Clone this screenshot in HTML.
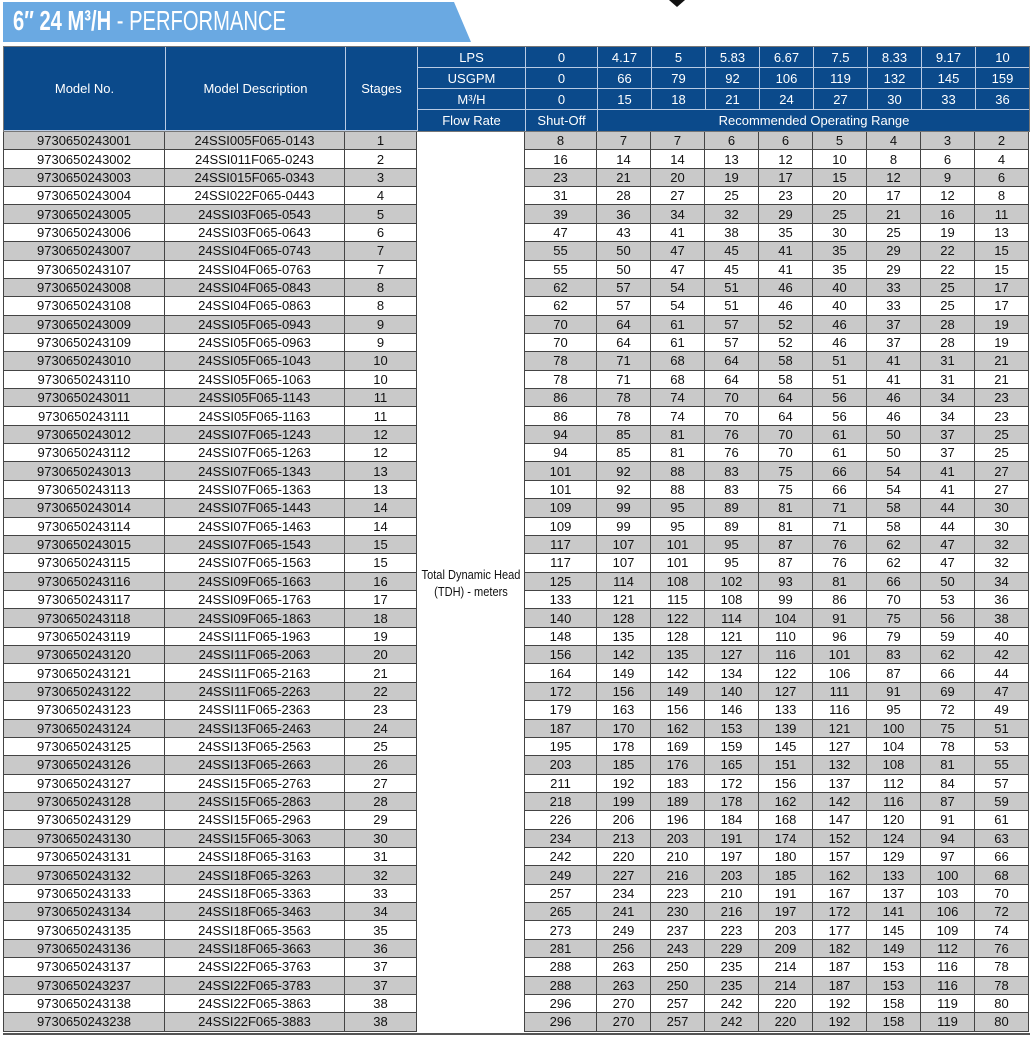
<!DOCTYPE html>
<html><head><meta charset="utf-8">
<style>
*{margin:0;padding:0;box-sizing:border-box}
body{width:1032px;height:1038px;background:#fff;position:relative;overflow:hidden;font-family:"Liberation Sans Narrow","Liberation Sans",sans-serif;color:#111}
.ban{position:absolute;left:3px;top:2px;width:468px;height:40px;background:#6aa9e2;clip-path:polygon(0 0,451px 0,468px 40px,0 40px)}
.ttl{position:absolute;left:13px;top:5px;font-size:28px;color:#fff;white-space:nowrap;transform:scaleX(0.72);transform-origin:0 0}
.ttl b{font-weight:bold}
.dia{position:absolute;left:669px;top:0;width:0;height:0;border-left:8px solid transparent;border-right:8px solid transparent;border-top:7px solid #111}
.hd{position:absolute;top:46px;left:3px;width:1027px;height:86px;background:#0b4a8b;border:1px solid #777}
.hc{position:absolute;color:#fff;font-size:13px;display:flex;align-items:center;justify-content:center;border-right:1px solid #b9cbe4;border-bottom:1px solid #b9cbe4}
.tb{position:absolute;top:132px;left:3px;width:1027px}
.r{display:grid;grid-template-columns:162px 180px 72px 108px 72px repeat(8,54px);height:18.37px;font-size:13px}
.r span{display:flex;align-items:center;justify-content:center;border-right:1px solid #444;border-bottom:1px solid #444;line-height:1}
.r span:first-child{border-left:1px solid #444}
.r span:nth-child(4){background:#fff!important;border-bottom:none}
.g span{background:#c9c9c9}
.tdh{position:absolute;left:397px;top:566px;width:148px;text-align:center;font-size:13px;line-height:17px;white-space:nowrap;transform:scaleX(0.85)}
.bl{position:absolute;left:3px;top:1033px;width:1027px;height:2px;background:#555}
</style></head><body>
<div class="ban"></div>
<div class="ttl"><b>6″ 24 M³/H</b> - PERFORMANCE</div>
<div class="dia"></div>
<div class="hd">
<div class="hc" style="left:0;top:0;width:162px;height:84px">Model No.</div>
<div class="hc" style="left:162px;top:0;width:180px;height:84px">Model Description</div>
<div class="hc" style="left:342px;top:0;width:72px;height:84px">Stages</div>
<div class="hc" style="left:414px;top:0;width:108px;height:21px">LPS</div>
<div class="hc" style="left:414px;top:21px;width:108px;height:21px">USGPM</div>
<div class="hc" style="left:414px;top:42px;width:108px;height:21px">M³/H</div>
<div class="hc" style="left:414px;top:63px;width:108px;height:21px;border-bottom:none">Flow Rate</div>
<div class="hc" style="left:522px;top:0;width:72px;height:21px">0</div>
<div class="hc" style="left:522px;top:21px;width:72px;height:21px">0</div>
<div class="hc" style="left:522px;top:42px;width:72px;height:21px">0</div>
<div class="hc" style="left:522px;top:63px;width:72px;height:21px;border-bottom:none">Shut-Off</div>
<div class="hc" style="left:594px;top:63px;width:432px;height:21px;border:none">Recommended Operating Range</div>
<div class="hc" style="left:594px;top:0;width:54px;height:21px">4.17</div><div class="hc" style="left:648px;top:0;width:54px;height:21px">5</div><div class="hc" style="left:702px;top:0;width:54px;height:21px">5.83</div><div class="hc" style="left:756px;top:0;width:54px;height:21px">6.67</div><div class="hc" style="left:810px;top:0;width:54px;height:21px">7.5</div><div class="hc" style="left:864px;top:0;width:54px;height:21px">8.33</div><div class="hc" style="left:918px;top:0;width:54px;height:21px">9.17</div><div class="hc" style="left:972px;top:0;width:53px;height:21px;border-right:none">10</div>
<div class="hc" style="left:594px;top:21px;width:54px;height:21px">66</div><div class="hc" style="left:648px;top:21px;width:54px;height:21px">79</div><div class="hc" style="left:702px;top:21px;width:54px;height:21px">92</div><div class="hc" style="left:756px;top:21px;width:54px;height:21px">106</div><div class="hc" style="left:810px;top:21px;width:54px;height:21px">119</div><div class="hc" style="left:864px;top:21px;width:54px;height:21px">132</div><div class="hc" style="left:918px;top:21px;width:54px;height:21px">145</div><div class="hc" style="left:972px;top:21px;width:53px;height:21px;border-right:none">159</div>
<div class="hc" style="left:594px;top:42px;width:54px;height:21px">15</div><div class="hc" style="left:648px;top:42px;width:54px;height:21px">18</div><div class="hc" style="left:702px;top:42px;width:54px;height:21px">21</div><div class="hc" style="left:756px;top:42px;width:54px;height:21px">24</div><div class="hc" style="left:810px;top:42px;width:54px;height:21px">27</div><div class="hc" style="left:864px;top:42px;width:54px;height:21px">30</div><div class="hc" style="left:918px;top:42px;width:54px;height:21px">33</div><div class="hc" style="left:972px;top:42px;width:53px;height:21px;border-right:none">36</div>
</div>
<div class="tb">
<div class="r g"><span>9730650243001</span><span>24SSI005F065-0143</span><span>1</span><span></span><span>8</span><span>7</span><span>7</span><span>6</span><span>6</span><span>5</span><span>4</span><span>3</span><span>2</span></div>
<div class="r"><span>9730650243002</span><span>24SSI011F065-0243</span><span>2</span><span></span><span>16</span><span>14</span><span>14</span><span>13</span><span>12</span><span>10</span><span>8</span><span>6</span><span>4</span></div>
<div class="r g"><span>9730650243003</span><span>24SSI015F065-0343</span><span>3</span><span></span><span>23</span><span>21</span><span>20</span><span>19</span><span>17</span><span>15</span><span>12</span><span>9</span><span>6</span></div>
<div class="r"><span>9730650243004</span><span>24SSI022F065-0443</span><span>4</span><span></span><span>31</span><span>28</span><span>27</span><span>25</span><span>23</span><span>20</span><span>17</span><span>12</span><span>8</span></div>
<div class="r g"><span>9730650243005</span><span>24SSI03F065-0543</span><span>5</span><span></span><span>39</span><span>36</span><span>34</span><span>32</span><span>29</span><span>25</span><span>21</span><span>16</span><span>11</span></div>
<div class="r"><span>9730650243006</span><span>24SSI03F065-0643</span><span>6</span><span></span><span>47</span><span>43</span><span>41</span><span>38</span><span>35</span><span>30</span><span>25</span><span>19</span><span>13</span></div>
<div class="r g"><span>9730650243007</span><span>24SSI04F065-0743</span><span>7</span><span></span><span>55</span><span>50</span><span>47</span><span>45</span><span>41</span><span>35</span><span>29</span><span>22</span><span>15</span></div>
<div class="r"><span>9730650243107</span><span>24SSI04F065-0763</span><span>7</span><span></span><span>55</span><span>50</span><span>47</span><span>45</span><span>41</span><span>35</span><span>29</span><span>22</span><span>15</span></div>
<div class="r g"><span>9730650243008</span><span>24SSI04F065-0843</span><span>8</span><span></span><span>62</span><span>57</span><span>54</span><span>51</span><span>46</span><span>40</span><span>33</span><span>25</span><span>17</span></div>
<div class="r"><span>9730650243108</span><span>24SSI04F065-0863</span><span>8</span><span></span><span>62</span><span>57</span><span>54</span><span>51</span><span>46</span><span>40</span><span>33</span><span>25</span><span>17</span></div>
<div class="r g"><span>9730650243009</span><span>24SSI05F065-0943</span><span>9</span><span></span><span>70</span><span>64</span><span>61</span><span>57</span><span>52</span><span>46</span><span>37</span><span>28</span><span>19</span></div>
<div class="r"><span>9730650243109</span><span>24SSI05F065-0963</span><span>9</span><span></span><span>70</span><span>64</span><span>61</span><span>57</span><span>52</span><span>46</span><span>37</span><span>28</span><span>19</span></div>
<div class="r g"><span>9730650243010</span><span>24SSI05F065-1043</span><span>10</span><span></span><span>78</span><span>71</span><span>68</span><span>64</span><span>58</span><span>51</span><span>41</span><span>31</span><span>21</span></div>
<div class="r"><span>9730650243110</span><span>24SSI05F065-1063</span><span>10</span><span></span><span>78</span><span>71</span><span>68</span><span>64</span><span>58</span><span>51</span><span>41</span><span>31</span><span>21</span></div>
<div class="r g"><span>9730650243011</span><span>24SSI05F065-1143</span><span>11</span><span></span><span>86</span><span>78</span><span>74</span><span>70</span><span>64</span><span>56</span><span>46</span><span>34</span><span>23</span></div>
<div class="r"><span>9730650243111</span><span>24SSI05F065-1163</span><span>11</span><span></span><span>86</span><span>78</span><span>74</span><span>70</span><span>64</span><span>56</span><span>46</span><span>34</span><span>23</span></div>
<div class="r g"><span>9730650243012</span><span>24SSI07F065-1243</span><span>12</span><span></span><span>94</span><span>85</span><span>81</span><span>76</span><span>70</span><span>61</span><span>50</span><span>37</span><span>25</span></div>
<div class="r"><span>9730650243112</span><span>24SSI07F065-1263</span><span>12</span><span></span><span>94</span><span>85</span><span>81</span><span>76</span><span>70</span><span>61</span><span>50</span><span>37</span><span>25</span></div>
<div class="r g"><span>9730650243013</span><span>24SSI07F065-1343</span><span>13</span><span></span><span>101</span><span>92</span><span>88</span><span>83</span><span>75</span><span>66</span><span>54</span><span>41</span><span>27</span></div>
<div class="r"><span>9730650243113</span><span>24SSI07F065-1363</span><span>13</span><span></span><span>101</span><span>92</span><span>88</span><span>83</span><span>75</span><span>66</span><span>54</span><span>41</span><span>27</span></div>
<div class="r g"><span>9730650243014</span><span>24SSI07F065-1443</span><span>14</span><span></span><span>109</span><span>99</span><span>95</span><span>89</span><span>81</span><span>71</span><span>58</span><span>44</span><span>30</span></div>
<div class="r"><span>9730650243114</span><span>24SSI07F065-1463</span><span>14</span><span></span><span>109</span><span>99</span><span>95</span><span>89</span><span>81</span><span>71</span><span>58</span><span>44</span><span>30</span></div>
<div class="r g"><span>9730650243015</span><span>24SSI07F065-1543</span><span>15</span><span></span><span>117</span><span>107</span><span>101</span><span>95</span><span>87</span><span>76</span><span>62</span><span>47</span><span>32</span></div>
<div class="r"><span>9730650243115</span><span>24SSI07F065-1563</span><span>15</span><span></span><span>117</span><span>107</span><span>101</span><span>95</span><span>87</span><span>76</span><span>62</span><span>47</span><span>32</span></div>
<div class="r g"><span>9730650243116</span><span>24SSI09F065-1663</span><span>16</span><span></span><span>125</span><span>114</span><span>108</span><span>102</span><span>93</span><span>81</span><span>66</span><span>50</span><span>34</span></div>
<div class="r"><span>9730650243117</span><span>24SSI09F065-1763</span><span>17</span><span></span><span>133</span><span>121</span><span>115</span><span>108</span><span>99</span><span>86</span><span>70</span><span>53</span><span>36</span></div>
<div class="r g"><span>9730650243118</span><span>24SSI09F065-1863</span><span>18</span><span></span><span>140</span><span>128</span><span>122</span><span>114</span><span>104</span><span>91</span><span>75</span><span>56</span><span>38</span></div>
<div class="r"><span>9730650243119</span><span>24SSI11F065-1963</span><span>19</span><span></span><span>148</span><span>135</span><span>128</span><span>121</span><span>110</span><span>96</span><span>79</span><span>59</span><span>40</span></div>
<div class="r g"><span>9730650243120</span><span>24SSI11F065-2063</span><span>20</span><span></span><span>156</span><span>142</span><span>135</span><span>127</span><span>116</span><span>101</span><span>83</span><span>62</span><span>42</span></div>
<div class="r"><span>9730650243121</span><span>24SSI11F065-2163</span><span>21</span><span></span><span>164</span><span>149</span><span>142</span><span>134</span><span>122</span><span>106</span><span>87</span><span>66</span><span>44</span></div>
<div class="r g"><span>9730650243122</span><span>24SSI11F065-2263</span><span>22</span><span></span><span>172</span><span>156</span><span>149</span><span>140</span><span>127</span><span>111</span><span>91</span><span>69</span><span>47</span></div>
<div class="r"><span>9730650243123</span><span>24SSI11F065-2363</span><span>23</span><span></span><span>179</span><span>163</span><span>156</span><span>146</span><span>133</span><span>116</span><span>95</span><span>72</span><span>49</span></div>
<div class="r g"><span>9730650243124</span><span>24SSI13F065-2463</span><span>24</span><span></span><span>187</span><span>170</span><span>162</span><span>153</span><span>139</span><span>121</span><span>100</span><span>75</span><span>51</span></div>
<div class="r"><span>9730650243125</span><span>24SSI13F065-2563</span><span>25</span><span></span><span>195</span><span>178</span><span>169</span><span>159</span><span>145</span><span>127</span><span>104</span><span>78</span><span>53</span></div>
<div class="r g"><span>9730650243126</span><span>24SSI13F065-2663</span><span>26</span><span></span><span>203</span><span>185</span><span>176</span><span>165</span><span>151</span><span>132</span><span>108</span><span>81</span><span>55</span></div>
<div class="r"><span>9730650243127</span><span>24SSI15F065-2763</span><span>27</span><span></span><span>211</span><span>192</span><span>183</span><span>172</span><span>156</span><span>137</span><span>112</span><span>84</span><span>57</span></div>
<div class="r g"><span>9730650243128</span><span>24SSI15F065-2863</span><span>28</span><span></span><span>218</span><span>199</span><span>189</span><span>178</span><span>162</span><span>142</span><span>116</span><span>87</span><span>59</span></div>
<div class="r"><span>9730650243129</span><span>24SSI15F065-2963</span><span>29</span><span></span><span>226</span><span>206</span><span>196</span><span>184</span><span>168</span><span>147</span><span>120</span><span>91</span><span>61</span></div>
<div class="r g"><span>9730650243130</span><span>24SSI15F065-3063</span><span>30</span><span></span><span>234</span><span>213</span><span>203</span><span>191</span><span>174</span><span>152</span><span>124</span><span>94</span><span>63</span></div>
<div class="r"><span>9730650243131</span><span>24SSI18F065-3163</span><span>31</span><span></span><span>242</span><span>220</span><span>210</span><span>197</span><span>180</span><span>157</span><span>129</span><span>97</span><span>66</span></div>
<div class="r g"><span>9730650243132</span><span>24SSI18F065-3263</span><span>32</span><span></span><span>249</span><span>227</span><span>216</span><span>203</span><span>185</span><span>162</span><span>133</span><span>100</span><span>68</span></div>
<div class="r"><span>9730650243133</span><span>24SSI18F065-3363</span><span>33</span><span></span><span>257</span><span>234</span><span>223</span><span>210</span><span>191</span><span>167</span><span>137</span><span>103</span><span>70</span></div>
<div class="r g"><span>9730650243134</span><span>24SSI18F065-3463</span><span>34</span><span></span><span>265</span><span>241</span><span>230</span><span>216</span><span>197</span><span>172</span><span>141</span><span>106</span><span>72</span></div>
<div class="r"><span>9730650243135</span><span>24SSI18F065-3563</span><span>35</span><span></span><span>273</span><span>249</span><span>237</span><span>223</span><span>203</span><span>177</span><span>145</span><span>109</span><span>74</span></div>
<div class="r g"><span>9730650243136</span><span>24SSI18F065-3663</span><span>36</span><span></span><span>281</span><span>256</span><span>243</span><span>229</span><span>209</span><span>182</span><span>149</span><span>112</span><span>76</span></div>
<div class="r"><span>9730650243137</span><span>24SSI22F065-3763</span><span>37</span><span></span><span>288</span><span>263</span><span>250</span><span>235</span><span>214</span><span>187</span><span>153</span><span>116</span><span>78</span></div>
<div class="r g"><span>9730650243237</span><span>24SSI22F065-3783</span><span>37</span><span></span><span>288</span><span>263</span><span>250</span><span>235</span><span>214</span><span>187</span><span>153</span><span>116</span><span>78</span></div>
<div class="r"><span>9730650243138</span><span>24SSI22F065-3863</span><span>38</span><span></span><span>296</span><span>270</span><span>257</span><span>242</span><span>220</span><span>192</span><span>158</span><span>119</span><span>80</span></div>
<div class="r g"><span>9730650243238</span><span>24SSI22F065-3883</span><span>38</span><span></span><span>296</span><span>270</span><span>257</span><span>242</span><span>220</span><span>192</span><span>158</span><span>119</span><span>80</span></div>
</div>
<div class="tdh">Total Dynamic Head<br>(TDH) - meters</div>
<div class="bl"></div>
</body></html>
